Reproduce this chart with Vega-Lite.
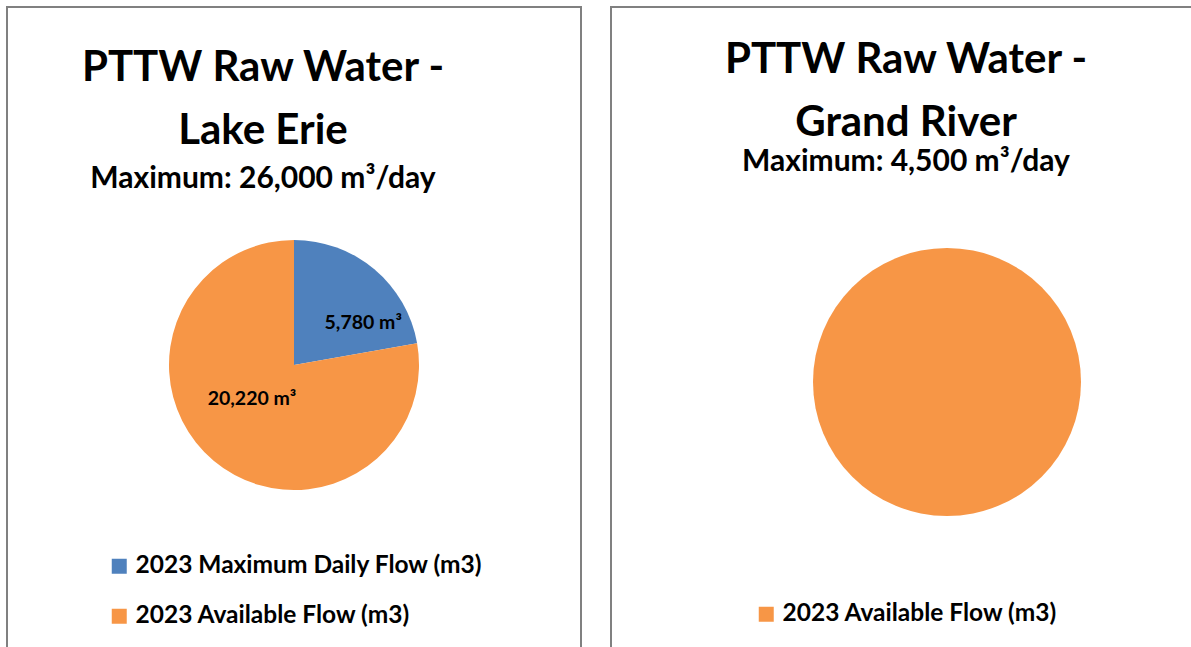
{
  "$schema": "https://vega.github.io/schema/vega-lite/v6.json",
  "padding": {"left": 6, "top": 6, "right": 0, "bottom": 0},
  "background": "white",
  "spacing": 28,
  "config": {
    "view": {"stroke": "#808080", "strokeWidth": 2},
    "font": "Lato",
    "legend": {"padding": 0}
  },
  "resolve": {"scale": {"color": "independent"}, "legend": {"color": "independent"}},
  "hconcat": [
    {
      "width": 574,
      "height": 716,
      "view": {"stroke": "#808080", "strokeWidth": 2, "fill": "white"},
      "title": {
        "text": ["PTTW Raw Water -", "Lake Erie"],
        "subtitle": "Maximum: 26,000 m³/day",
        "anchor": "middle",
        "orient": "top",
        "offset": -188,
        "dx": -31,
        "font": "Lato",
        "fontSize": 42,
        "fontWeight": "bold",
        "color": "black",
        "lineHeight": 63,
        "subtitleFont": "Lato",
        "subtitleFontSize": 30,
        "subtitleFontWeight": "bold",
        "subtitleColor": "black",
        "subtitlePadding": 11
      },
      "data": {"values": [
        {"source": "Lake Erie", "category": "2023 Maximum Daily Flow (m3)", "flow": 5780, "label": "5,780 m³"},
        {"source": "Lake Erie", "category": "2023 Available Flow (m3)", "flow": 20220, "label": "20,220 m³"}
      ]},
      "encoding": {
        "theta": {"field": "flow", "type": "quantitative", "stack": true},
        "order": {"field": "flow", "type": "quantitative", "sort": "ascending"}
      },
      "layer": [
        {
          "mark": {"type": "arc", "radius": 125},
          "encoding": {
            "color": {
              "field": "category",
              "type": "nominal",
              "scale": {"domain": ["2023 Maximum Daily Flow (m3)", "2023 Available Flow (m3)"], "range": ["#4F81BD", "#F79646"]},
              "legend": {
                "title": null,
                "orient": "none",
                "legendX": 100,
                "legendY": 547,
                "symbolType": "square",
                "symbolSize": 225,
                "symbolStrokeWidth": 0,
                "symbolOpacity": 1,
                "labelFont": "Lato",
                "labelFontSize": 24.5,
                "labelFontWeight": "bold",
                "labelColor": "black",
                "labelOffset": 4,
                "rowPadding": 25,
                "labelLimit": 500
              }
            }
          }
        },
        {
          "mark": {"type": "text", "radius": 81, "thetaOffset": 0.326, "font": "Lato", "fontSize": 19.5, "fontWeight": "bold", "align": "center", "baseline": "middle", "color": "black"},
          "encoding": {
            "detail": {"field": "category"},
            "text": {"condition": {"test": "datum.category === '2023 Maximum Daily Flow (m3)'", "field": "label"}, "value": ""}
          }
        },
        {
          "mark": {"type": "text", "radius": 54, "thetaOffset": 0.192, "font": "Lato", "fontSize": 19.5, "fontWeight": "bold", "align": "center", "baseline": "middle", "color": "black"},
          "encoding": {
            "detail": {"field": "category"},
            "text": {"condition": {"test": "datum.category === '2023 Available Flow (m3)'", "field": "label"}, "value": ""}
          }
        }
      ]
    },
    {
      "width": 672,
      "height": 750,
      "view": {"stroke": "#808080", "strokeWidth": 2, "fill": "white"},
      "title": {
        "text": ["PTTW Raw Water -", "Grand River"],
        "subtitle": "Maximum: 4,500 m³/day",
        "anchor": "middle",
        "orient": "top",
        "offset": -171,
        "dx": -41,
        "font": "Lato",
        "fontSize": 42,
        "fontWeight": "bold",
        "color": "black",
        "lineHeight": 63,
        "subtitleFont": "Lato",
        "subtitleFontSize": 30,
        "subtitleFontWeight": "bold",
        "subtitleColor": "black",
        "subtitlePadding": 2
      },
      "data": {"values": [
        {"source": "Grand River", "category": "2023 Available Flow (m3)", "flow": 4500}
      ]},
      "mark": {"type": "arc", "radius": 134},
      "encoding": {
        "theta": {"field": "flow", "type": "quantitative", "stack": true},
        "color": {
          "field": "category",
          "type": "nominal",
          "scale": {"domain": ["2023 Available Flow (m3)"], "range": ["#F79646"]},
          "legend": {
            "title": null,
            "orient": "none",
            "legendX": 143,
            "legendY": 595,
            "symbolType": "square",
            "symbolSize": 225,
            "symbolStrokeWidth": 0,
            "symbolOpacity": 1,
            "labelFont": "Lato",
            "labelFontSize": 24.5,
            "labelFontWeight": "bold",
            "labelColor": "black",
            "labelOffset": 4,
            "labelLimit": 500
          }
        }
      }
    }
  ]
}
